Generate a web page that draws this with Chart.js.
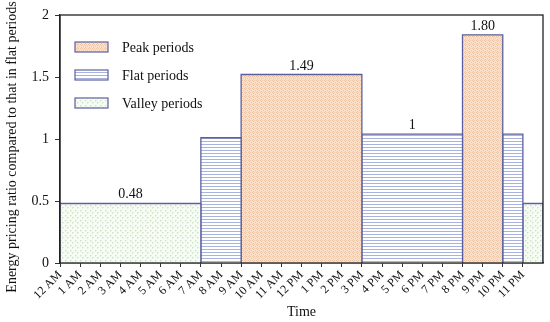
<!DOCTYPE html>
<html>
<head>
<meta charset="utf-8">
<script src="https://cdn.jsdelivr.net/npm/chart.js@4/dist/chart.umd.min.js"></script>
<style>
html,body{margin:0;padding:0;background:#fff;}
#wrap{width:550px;height:322px;position:relative;}
</style>
</head>
<body>
<div id="wrap"><canvas id="c" width="550" height="322"></canvas></div>
<script>
// ---- data ----
const tickLabels = ["12 AM","1 AM","2 AM","3 AM","4 AM","5 AM","6 AM","7 AM","8 AM","9 AM","10 AM","11 AM",
  "12 PM","1 PM","2 PM","3 PM","4 PM","5 PM","6 PM","7 PM","8 PM","9 PM","10 PM","11 PM"];
const segStart = [0, 7, 9, 15, 20, 22, 23];
const segEnd   = [7, 9, 15, 20, 22, 23, 24];
const segValue = [0.48, 1.01, 1.52, 1.04, 1.84, 1.04, 0.48];
const segType  = ["valley","flat","peak","flat","peak","flat","valley"];
const segLabel = ["0.48", "", "1.49", "1", "1.80", "", ""];
const legendNames = ["Peak periods","Flat periods","Valley periods"];
const legendTypes = ["peak","flat","valley"];
const yTitle = "Energy pricing ratio compared to that in flat periods";

const FONT = "'Liberation Serif','Times New Roman',serif";
const EDGE = "#5b5fa0";

function makePattern(type){
  const c = document.createElement('canvas');
  const ctx = c.getContext('2d');
  if(type==="flat"){
    c.width=4; c.height=3;
    ctx.fillStyle="#ffffff"; ctx.fillRect(0,0,4,3);
    ctx.fillStyle="#a9b3df"; ctx.fillRect(0,0,4,1);
  } else if(type==="peak"){
    c.width=4; c.height=4;
    ctx.fillStyle="#fae0cb"; ctx.fillRect(0,0,4,4);
    ctx.fillStyle="#eec5a5";
    ctx.fillRect(0,0,1,1); ctx.fillRect(2,0,1,1);
    ctx.fillRect(1,1,1,1); ctx.fillRect(3,2,1,1);
    ctx.fillRect(1,3,1,1);
  } else {
    c.width=5; c.height=5;
    ctx.fillStyle="#f6fbf3"; ctx.fillRect(0,0,5,5);
    ctx.fillStyle="#cfe2c8";
    ctx.fillRect(0,0,1,1); ctx.fillRect(2,2,1,1);
    ctx.fillStyle="#e2eedc";
    ctx.fillRect(1,0,1,1); ctx.fillRect(0,1,1,1); ctx.fillRect(3,2,1,1); ctx.fillRect(2,3,1,1);
  }
  return document.getElementById('c').getContext('2d').createPattern(c,'repeat');
}
const patterns = {peak:makePattern("peak"), flat:makePattern("flat"), valley:makePattern("valley")};

const datasets = segStart.map((s,i)=>({
  data:[{x:s,y:0},{x:s,y:segValue[i]},{x:segEnd[i],y:segValue[i]},{x:segEnd[i],y:0}],
  borderColor:EDGE, borderWidth:1.3, backgroundColor:patterns[segType[i]],
  fill:'origin', pointRadius:0, tension:0
}));

const overlay = {
  id:'overlay',
  afterDatasetsDraw(chart){
    const {ctx, chartArea:a, scales:{x,y}} = chart;
    ctx.save();
    ctx.strokeStyle="#222"; ctx.lineWidth=1.3;
    ctx.strokeRect(a.left, a.top, a.right-a.left, a.bottom-a.top);
    ctx.fillStyle="#111"; ctx.font="14px "+FONT; ctx.textAlign="center"; ctx.textBaseline="alphabetic";
    segLabel.forEach((t,i)=>{
      if(!t) return;
      const cx = x.getPixelForValue((segStart[i]+segEnd[i])/2);
      ctx.fillText(t, cx, y.getPixelForValue(segValue[i])-5);
    });
    const lx = 75, bw = 33, bh = 10;
    legendTypes.forEach((t,i)=>{
      const cy = 47 + i*28;
      ctx.fillStyle = patterns[t];
      ctx.fillRect(lx, cy-bh/2, bw, bh);
      ctx.strokeStyle = EDGE; ctx.lineWidth=1.2;
      ctx.strokeRect(lx, cy-bh/2, bw, bh);
      ctx.fillStyle="#111"; ctx.font="14px "+FONT; ctx.textAlign="left"; ctx.textBaseline="middle";
      ctx.fillText(legendNames[i], 122, cy+1);
    });
    // y-axis title
    ctx.translate(12, 147);
    ctx.rotate(-Math.PI/2);
    ctx.fillStyle="#111"; ctx.font="14px "+FONT; ctx.textAlign="center"; ctx.textBaseline="middle";
    ctx.fillText(yTitle, 0, 0);
    ctx.restore();
  }
};

new Chart(document.getElementById('c'), {
  type:'line',
  data:{datasets},
  options:{
    responsive:false, animation:false,
    layout:{padding:{top:15,right:7,left:0,bottom:0}},
    plugins:{legend:{display:false}, tooltip:{enabled:false}},
    scales:{
      x:{
        type:'linear', min:0, max:24,
        afterFit(s){ s.height = 59; },
        afterBuildTicks(s){ s.ticks = tickLabels.map((_,i)=>({value:i})); },
        ticks:{stepSize:1, autoSkip:false, minRotation:45, maxRotation:45, padding:1,
          color:"#111", font:{family:FONT, size:12},
          callback:(v)=> tickLabels[v] ?? ""},
        grid:{drawOnChartArea:false, drawTicks:true, tickLength:4, color:"#333", lineWidth:1},
        border:{display:true, color:"#222", width:1.3},
        title:{display:true, text:"Time", color:"#111", font:{family:FONT, size:14}, padding:{top:0,bottom:1}}
      },
      y:{
        min:0, max:2,
        afterFit(s){ s.width = 60; },
        ticks:{stepSize:0.5, color:"#111", font:{family:FONT, size:14}, padding:6,
          callback:(v)=> String(v)},
        grid:{drawOnChartArea:false, drawTicks:true, tickLength:5, color:"#333", lineWidth:1},
        border:{display:true, color:"#222", width:1.3},
        title:{display:false}
      }
    }
  },
  plugins:[overlay]
});
</script>
</body>
</html>
